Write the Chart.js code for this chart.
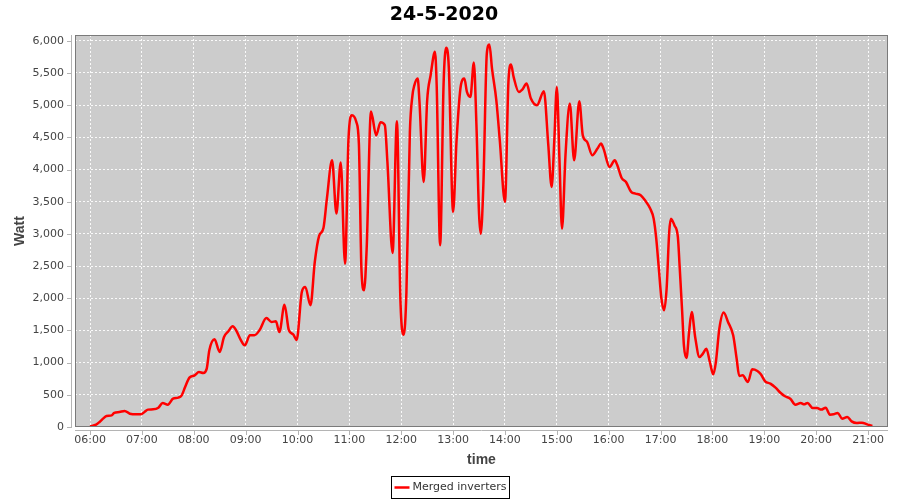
<!DOCTYPE html>
<html>
<head>
<meta charset="utf-8">
<title>24-5-2020</title>
<script src="https://cdn.jsdelivr.net/npm/chart.js@4.4.1/dist/chart.umd.min.js"></script>
<style>
  html, body { margin: 0; padding: 0; background: #ffffff; }
</style>
</head>
<body>
<canvas id="chart" width="900" height="500"></canvas>
<script>
// Chart data
const chartTitle = '24-5-2020';
const seriesLabel = 'Merged inverters';
const xAxisTitle = 'time';
const yAxisTitle = 'Watt';

const times = [
  '06:00', '06:07', '06:11', '06:15', '06:19', '06:25', '06:28', '06:34', '06:40', '06:46',
  '06:54', '06:59', '07:03', '07:07', '07:13', '07:19', '07:24', '07:30', '07:36', '07:42',
  '07:46', '07:50', '07:55', '08:01', '08:06', '08:11', '08:15', '08:18', '08:24', '08:30',
  '08:35', '08:40', '08:45', '08:49', '08:54', '08:59', '09:05', '09:10', '09:16', '09:24',
  '09:30', '09:35', '09:39', '09:45', '09:50', '09:55', '09:59', '10:05', '10:09', '10:15',
  '10:20', '10:25', '10:30', '10:34', '10:40', '10:45', '10:50', '10:55', '10:59', '11:03',
  '11:08', '11:11', '11:14', '11:17', '11:20', '11:25', '11:31', '11:36', '11:41', '11:44',
  '11:50', '11:55', '11:59', '12:03', '12:06', '12:10', '12:13', '12:15', '12:19', '12:21',
  '12:26', '12:30', '12:34', '12:39', '12:41', '12:45', '12:49', '12:52', '12:55', '13:00',
  '13:04', '13:09', '13:13', '13:16', '13:20', '13:24', '13:27', '13:30', '13:32', '13:35',
  '13:39', '13:42', '13:45', '13:50', '13:54', '14:00', '14:04', '14:07', '14:10', '14:16',
  '14:20', '14:25', '14:30', '14:37', '14:45', '14:50', '14:54', '14:57', '15:00', '15:03',
  '15:06', '15:10', '15:15', '15:20', '15:26', '15:30', '15:35', '15:41', '15:47', '15:51',
  '15:54', '16:01', '16:07', '16:10', '16:15', '16:20', '16:26', '16:31', '16:37', '16:42',
  '16:48', '16:52', '16:55', '16:58', '17:01', '17:04', '17:07', '17:10', '17:12', '17:16',
  '17:20', '17:22', '17:25', '17:27', '17:30', '17:33', '17:36', '17:40', '17:45', '17:49',
  '17:53', '17:57', '18:01', '18:04', '18:08', '18:13', '18:18', '18:24', '18:28', '18:31',
  '18:35', '18:41', '18:46', '18:52', '18:56', '19:01', '19:07', '19:13', '19:19', '19:24',
  '19:30', '19:36', '19:42', '19:46', '19:50', '19:56', '20:01', '20:06', '20:11', '20:16',
  '20:20', '20:25', '20:30', '20:36', '20:41', '20:47', '20:53', '20:59', '21:05'
];

const watts = [
  10, 36, 78, 130, 171, 180, 220, 233, 250, 207,
  197, 197, 233, 270, 275, 300, 373, 347, 440, 456,
  492, 622, 767, 803, 855, 839, 907, 1191, 1362, 1166,
  1399, 1487, 1564, 1502, 1362, 1269, 1425, 1425, 1502, 1694,
  1632, 1642, 1476, 1901, 1502, 1440, 1352, 2098, 2176, 1891,
  2564, 2968, 3092, 3548, 4144, 3315, 4108, 2538, 4481, 4843,
  4740, 4403, 2435, 2124, 2771, 4900, 4530, 4735, 4690, 4118,
  2704, 4750, 1994, 1435, 2098, 4584, 5154, 5299, 5413, 5076,
  3807, 5076, 5465, 5828, 5310, 2823, 5335, 5890, 5594, 3341,
  4455, 5310, 5413, 5206, 5128, 5662, 4688, 3315, 3004, 3756,
  5802, 5941, 5568, 5076, 4455, 3497, 5361, 5630, 5439, 5206,
  5242, 5335, 5102, 4999, 5216, 4403, 3730, 4429, 5284, 4170,
  3080, 4222, 5025, 4144, 5061, 4533, 4429, 4222, 4325, 4403,
  4325, 4040, 4144, 4066, 3869, 3807, 3652, 3626, 3600, 3522,
  3393, 3237, 2927, 2460, 1994, 1813, 2150, 3030, 3237, 3134,
  2953, 2512, 1787, 1269, 1072, 1476, 1787, 1399, 1088, 1140,
  1217, 1010, 818, 1010, 1528, 1777, 1632, 1425, 1062, 793,
  803, 699, 896, 870, 818, 710, 673, 611, 528, 477,
  440, 347, 373, 352, 373, 295, 295, 270, 300, 192,
  197, 218, 130, 155, 88, 62, 67, 41, 16
];

const hourTicks = [
  '06:00', '07:00', '08:00', '09:00', '10:00', '11:00', '12:00', '13:00',
  '14:00', '15:00', '16:00', '17:00', '18:00', '19:00', '20:00', '21:00'
];
const wattTicks = [0, 500, 1000, 1500, 2000, 2500, 3000, 3500, 4000, 4500, 5000, 5500, 6000];

const xRange = ['05:42.6', '21:23.1'];
const yMax = 6090;

// "HH:MM" (optionally with fractional minutes) -> minutes since midnight
const toMinutes = t => {
  const [h, m] = t.split(':').map(Number);
  return h * 60 + m;
};
const toClock = v => {
  const h = Math.floor(v / 60);
  const m = Math.round(v - h * 60);
  return String(h).padStart(2, '0') + ':' + String(m).padStart(2, '0');
};

const points = times.map((t, i) => ({ x: toMinutes(t), y: watts[i] }));

// Plot background, outline, offset axis lines and the boxed legend
const plotDecor = {
  id: 'plotDecor',
  beforeDraw(chart) {
    const { ctx, chartArea: a } = chart;
    ctx.save();
    ctx.fillStyle = '#cccccc';
    ctx.fillRect(a.left, a.top, a.right - a.left, a.bottom - a.top);
    ctx.restore();
  },
  afterDraw(chart) {
    const { ctx, chartArea: a } = chart;
    const xScale = chart.scales.x;
    const yScale = chart.scales.y;
    ctx.save();

    // plot outline
    ctx.strokeStyle = '#7a7a7a';
    ctx.lineWidth = 1;
    ctx.strokeRect(a.left + 0.5, a.top + 0.5, a.right - a.left - 1, a.bottom - a.top - 1);

    // axis lines, set slightly away from the plot
    ctx.strokeStyle = '#b4b4b4';
    ctx.beginPath();
    ctx.moveTo(a.left - 3.5, a.top);
    ctx.lineTo(a.left - 3.5, a.bottom + 1);
    ctx.moveTo(a.left, a.bottom + 3.5);
    ctx.lineTo(a.right, a.bottom + 3.5);
    // tick marks
    yScale.ticks.forEach(t => {
      const py = Math.round(yScale.getPixelForValue(t.value)) + 0.5;
      ctx.moveTo(a.left - 8, py);
      ctx.lineTo(a.left - 3.5, py);
    });
    xScale.ticks.forEach(t => {
      const px = Math.round(xScale.getPixelForValue(t.value)) + 0.5;
      ctx.moveTo(px, a.bottom + 3.5);
      ctx.lineTo(px, a.bottom + 8);
    });
    ctx.stroke();

    // legend
    const ds = chart.data.datasets[0];
    ctx.font = '11px "DejaVu Sans", sans-serif';
    const tw = ctx.measureText(ds.label).width;
    const boxW = Math.round(tw + 24);
    const boxH = 22;
    const left = Math.round(chart.width / 2 - boxW / 2) + 0.5;
    const top = chart.height - 23.5;
    ctx.strokeStyle = '#000000';
    ctx.lineWidth = 1;
    ctx.strokeRect(left, top, boxW, boxH);
    const cy = top + boxH / 2;
    ctx.strokeStyle = ds.borderColor;
    ctx.lineWidth = 2.5;
    ctx.beginPath();
    ctx.moveTo(left + 3, cy);
    ctx.lineTo(left + 18, cy);
    ctx.stroke();
    ctx.fillStyle = '#333333';
    ctx.textBaseline = 'middle';
    ctx.textAlign = 'left';
    ctx.fillText(ds.label, left + 21, cy);

    ctx.restore();
  }
};

Chart.defaults.font.family = '"DejaVu Sans", sans-serif';

new Chart(document.getElementById('chart'), {
  type: 'line',
  data: {
    datasets: [{
      label: seriesLabel,
      data: points,
      borderColor: '#ff0000',
      borderWidth: 2.5,
      pointRadius: 0,
      cubicInterpolationMode: 'monotone',
      fill: false
    }]
  },
  options: {
    responsive: false,
    animation: false,
    devicePixelRatio: 1,
    layout: { padding: { left: 0, right: 12, top: 0, bottom: 28 } },
    plugins: {
      legend: { display: false },
      tooltip: { enabled: false },
      title: {
        display: true,
        text: chartTitle,
        color: '#000000',
        font: { family: '"DejaVu Sans", sans-serif', size: 19, weight: 'bold' },
        padding: { top: 4, bottom: 8.2 }
      }
    },
    scales: {
      x: {
        type: 'linear',
        min: toMinutes(xRange[0]),
        max: toMinutes(xRange[1]),
        afterBuildTicks: scale => {
          scale.ticks = hourTicks.map(t => ({ value: toMinutes(t) }));
        },
        afterFit: scale => { scale.height = 45; },
        ticks: {
          autoSkip: false,
          maxRotation: 0,
          padding: 7,
          color: '#444444',
          font: { size: 11 },
          callback: v => toClock(v)
        },
        grid: { color: 'rgba(255,255,255,0.9)', lineWidth: 1, drawTicks: false },
        border: { display: false, dash: [2, 2] },
        title: {
          display: true,
          text: xAxisTitle,
          color: '#444444',
          font: { family: '"Liberation Sans", sans-serif', size: 14, weight: 'bold' },
          padding: { top: 0, bottom: 3.6 }
        }
      },
      y: {
        type: 'linear',
        min: 0,
        max: yMax,
        afterBuildTicks: scale => {
          scale.ticks = wattTicks.map(v => ({ value: v }));
        },
        afterFit: scale => { scale.width = 75; },
        ticks: {
          padding: 11,
          color: '#444444',
          font: { size: 11 },
          callback: v => v.toLocaleString('en-US')
        },
        grid: { color: 'rgba(255,255,255,0.9)', lineWidth: 1, drawTicks: false },
        border: { display: false, dash: [2, 2] },
        title: {
          display: true,
          text: yAxisTitle,
          color: '#444444',
          font: { family: '"Liberation Sans", sans-serif', size: 14, weight: 'bold' },
          padding: { top: 11.6, bottom: 0 }
        }
      }
    }
  },
  plugins: [plotDecor]
});
</script>
</body>
</html>
